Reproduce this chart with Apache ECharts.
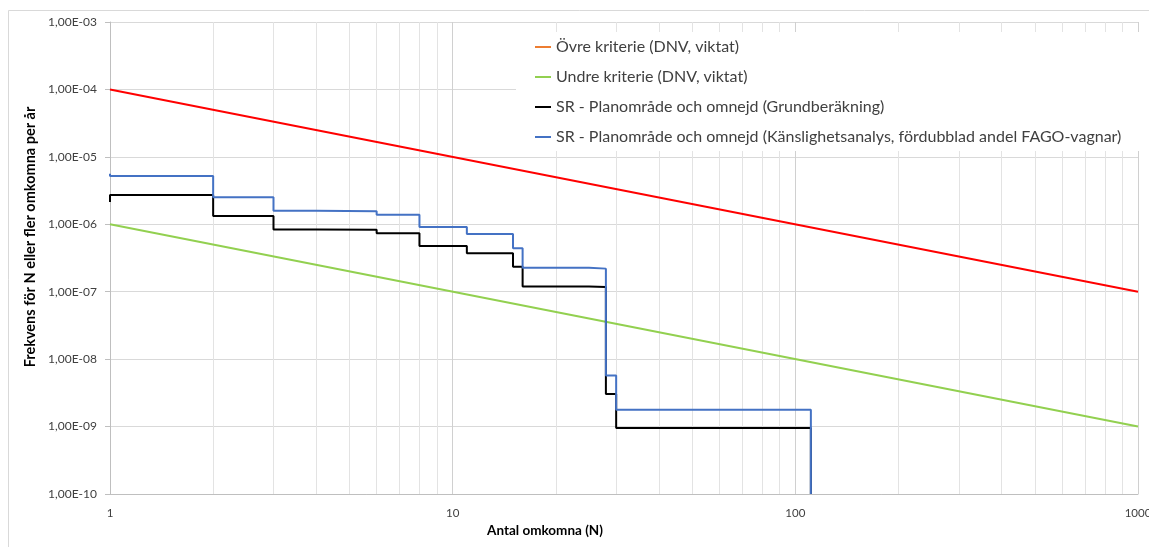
<!DOCTYPE html>
<html>
<head>
<meta charset="utf-8">
<script src="https://cdn.jsdelivr.net/npm/echarts@6/dist/echarts.min.js"></script>
<style>
  html, body { margin: 0; padding: 0; background: #fff; }
  #chart { width: 1149px; height: 547px; }
</style>
</head>
<body>
<div id="chart"></div>
<script>
// criteria lines (DNV, weighted)
const criteriaN = [1, 1000]
const upperFreq = [1e-4, 1e-7]
const lowerFreq = [1e-6, 1e-9]

// SR - base calculation
const baseN = [1, 1, 2, 3, 4, 6, 8, 11, 15, 16, 25, 28, 30, 111]
const baseFreq = [2.14e-6, 2.72e-6, 1.33e-6, 8.4e-7, 8.3e-7, 7.35e-7, 4.77e-7, 3.71e-7, 2.35e-7, 1.19e-7, 1.17e-7, 3.04e-9, 9.5e-10, 1e-10]

// SR - sensitivity analysis
const sensN = [1, 1, 2, 3, 4, 6, 8, 11, 15, 16, 25, 28, 30, 111]
const sensFreq = [5.6e-6, 5.2e-6, 2.51e-6, 1.59e-6, 1.56e-6, 1.39e-6, 9.1e-7, 7.18e-7, 4.4e-7, 2.27e-7, 2.2e-7, 5.7e-9, 1.78e-9, 1e-10]

const seriesNames = [
  'Övre kriterie (DNV, viktat)',
  'Undre kriterie (DNV, viktat)',
  'SR - Planområde och omnejd (Grundberäkning)',
  'SR - Planområde och omnejd (Känslighetsanalys, fördubblad andel FAGO-vagnar)'
]

const FONT = 'Lato'

function pairs(xs, ys) {
  return xs.map((x, i) => [x, ys[i]])
}

// minor vertical grid lines 2..9 in each decade
const minorX = []
for (const d of [1, 10, 100]) {
  for (let k = 2; k <= 9; k++) minorX.push(k * d)
}

function fmtExp(v) {
  const parts = v.toExponential(2).split('e')
  const e = parseInt(parts[1], 10)
  const sign = e < 0 ? '-' : '+'
  const abs = Math.abs(e)
  return parts[0].replace('.', ',') + 'E' + sign + (abs < 10 ? '0' + abs : abs)
}

const chart = echarts.init(document.getElementById('chart'))

const option = {
  animation: false,
  backgroundColor: '#fff',
  grid: { left: 110, right: 11, top: 22, bottom: 53, outerBoundsMode: 'none', containLabel: false },
  graphic: [
    {
      type: 'rect',
      silent: true,
      shape: { x: 8.5, y: 10.5, width: 1200, height: 600 },
      style: { fill: 'none', stroke: '#d9d9d9', lineWidth: 1 }
    },
    {
      type: 'text',
      x: 545,
      y: 531,
      style: {
        text: 'Antal omkomna (N)',
        font: 'bold 13.5px ' + FONT,
        fill: '#000',
        align: 'center',
        verticalAlign: 'middle'
      }
    },
    {
      type: 'text',
      x: 30,
      y: 237,
      rotation: Math.PI / 2,
      style: {
        text: 'Frekvens för N eller fler omkomna per år',
        font: 'bold 14.5px ' + FONT,
        fill: '#000',
        align: 'center',
        verticalAlign: 'middle'
      }
    }
  ],
  legend: {
    orient: 'vertical',
    left: 516,
    top: 32,
    z: 20,
    padding: [7, 18, 6, 19],
    itemGap: 14,
    itemWidth: 16,
    itemHeight: 2,
    icon: 'rect',
    backgroundColor: '#fff',
    textStyle: { fontFamily: FONT, fontSize: 16, color: '#404040', lineHeight: 16 },
    data: [
      { name: seriesNames[0], itemStyle: { color: '#ED7D31' } },
      { name: seriesNames[1], itemStyle: { color: '#92D050' } },
      { name: seriesNames[2], itemStyle: { color: '#000000' } },
      { name: seriesNames[3], itemStyle: { color: '#4472C4' } }
    ]
  },
  xAxis: {
    type: 'log',
    logBase: 10,
    min: 1,
    max: 1000,
    axisLine: { show: true, lineStyle: { color: '#bfbfbf' } },
    axisTick: { show: false },
    axisLabel: { fontFamily: FONT, fontSize: 11.5, color: '#404040', margin: 13, formatter: v => String(Math.round(v)) },
    splitLine: { show: true, lineStyle: { color: '#d0d0d0' } }
  },
  yAxis: {
    type: 'log',
    logBase: 10,
    min: 1e-10,
    max: 1e-3,
    axisLine: { show: true, lineStyle: { color: '#bfbfbf' } },
    axisTick: { show: true, inside: false, length: 5, lineStyle: { color: '#bfbfbf' } },
    axisLabel: { fontFamily: FONT, fontSize: 12, color: '#404040', margin: 13, formatter: fmtExp },
    splitLine: { show: true, lineStyle: { color: '#d9d9d9' } }
  },
  series: [
    {
      name: '__minor',
      type: 'line',
      z: 1,
      data: [],
      silent: true,
      markLine: {
        z: 1,
        silent: true,
        symbol: ['none', 'none'],
        animation: false,
        label: { show: false },
        lineStyle: { color: '#e3e3e3', width: 1, type: 'solid' },
        data: minorX.map(x => ({ xAxis: x }))
      }
    },
    {
      name: seriesNames[0],
      type: 'line',
      data: pairs(criteriaN, upperFreq),
      showSymbol: false,
      itemStyle: { color: '#ED7D31' },
      lineStyle: { color: '#FF0000', width: 2 }
    },
    {
      name: seriesNames[1],
      type: 'line',
      data: pairs(criteriaN, lowerFreq),
      showSymbol: false,
      itemStyle: { color: '#92D050' },
      lineStyle: { color: '#92D050', width: 2 }
    },
    {
      name: seriesNames[2],
      type: 'line',
      step: 'end',
      data: pairs(baseN, baseFreq),
      showSymbol: false,
      itemStyle: { color: '#000000' },
      lineStyle: { color: '#000000', width: 2 }
    },
    {
      name: seriesNames[3],
      type: 'line',
      step: 'end',
      data: pairs(sensN, sensFreq),
      showSymbol: false,
      itemStyle: { color: '#4472C4' },
      lineStyle: { color: '#4472C4', width: 2 }
    }
  ]
}

chart.setOption(option)
</script>
</body>
</html>
